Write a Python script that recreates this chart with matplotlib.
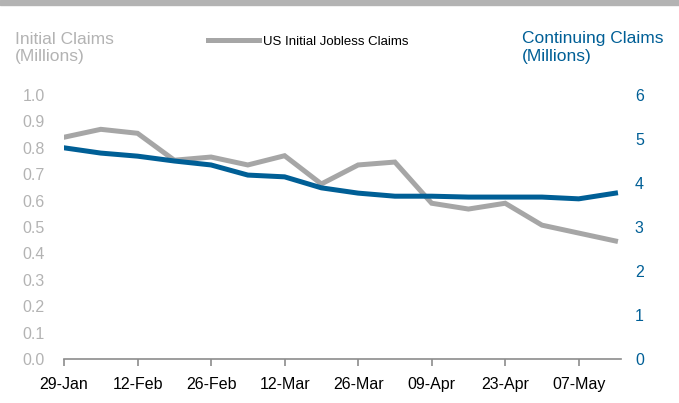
import matplotlib.pyplot as plt
import numpy as np

plt.rcParams['font.family'] = ['Liberation Sans', 'DejaVu Sans']

# weekly data, 29-Jan to 14-May
weeks = ["29-Jan", "05-Feb", "12-Feb", "19-Feb", "26-Feb", "05-Mar", "12-Mar", "19-Mar",
         "26-Mar", "02-Apr", "09-Apr", "16-Apr", "23-Apr", "30-Apr", "07-May", "14-May"]
initial = [0.84, 0.87, 0.855, 0.753, 0.765, 0.735, 0.77, 0.663,
           0.735, 0.746, 0.59, 0.568, 0.59, 0.507, 0.477, 0.447]
continuing = [4.80, 4.68, 4.61, 4.50, 4.41, 4.18, 4.14, 3.89,
              3.77, 3.70, 3.70, 3.68, 3.68, 3.68, 3.64, 3.77]

grey = "#a6a6a6"
lightgrey = "#b3b3b3"
blue = "#005f96"

fig = plt.figure(figsize=(6.79, 4.03), dpi=100)
ax = fig.add_axes([64/679, 1 - 359/403, (621 - 64)/679, (359 - 95)/403])
ax2 = ax.twinx()

x = np.arange(len(weeks))
ax.plot(x, initial, color=grey, lw=3.6, solid_joinstyle='miter', label="US Initial Jobless Claims", zorder=2)
ax2.plot(x, continuing, color=blue, lw=3.6, solid_joinstyle='miter', zorder=3)

ax.set_xlim(0, 15.15)
ax.set_ylim(0, 1.0)
ax2.set_ylim(0, 6)
ax.set_yticks(np.arange(0, 1.01, 0.1))
ax.set_yticklabels([f"{v:.1f}" for v in np.arange(0, 1.01, 0.1)])
ax2.set_yticks(range(7))
ax.set_xticks(x[::2])
ax.set_xticklabels(weeks[::2])

for a in (ax, ax2):
    for s in ("top", "left", "right"):
        a.spines[s].set_visible(False)
ax2.spines["bottom"].set_visible(False)
ax.spines["bottom"].set_color("#8c8c8c")
ax.spines["bottom"].set_linewidth(1.2)

ax.tick_params(axis='y', length=0, pad=14, labelsize=11.5, labelcolor=lightgrey)
ax2.tick_params(axis='y', length=0, pad=10, labelsize=11.5, labelcolor=blue)
ax.tick_params(axis='x', length=5, width=1.2, color="#8c8c8c", pad=8, labelsize=11.5, labelcolor="black")

fig.text(15/679, 1 - 48/403, "Initial Claims\n(Millions)", color=lightgrey, fontsize=12.5,
         va='center', ha='left', linespacing=1.25)
fig.text(522/679, 1 - 48/403, "Continuing Claims\n(Millions)", color=blue, fontsize=12.5,
         va='center', ha='left', linespacing=1.25)

fig.legend(loc='center left', bbox_to_anchor=(208/679, 1 - 42/403), frameon=False,
           fontsize=9.5, handlelength=3.9, handletextpad=0.25, borderaxespad=0, borderpad=0)

# grey band along the top edge
fig.patches.append(plt.Rectangle((0, 1 - 5/403), 1, 5/403, transform=fig.transFigure,
                                 color=lightgrey, zorder=0))

fig.savefig("out.png", dpi=100)
